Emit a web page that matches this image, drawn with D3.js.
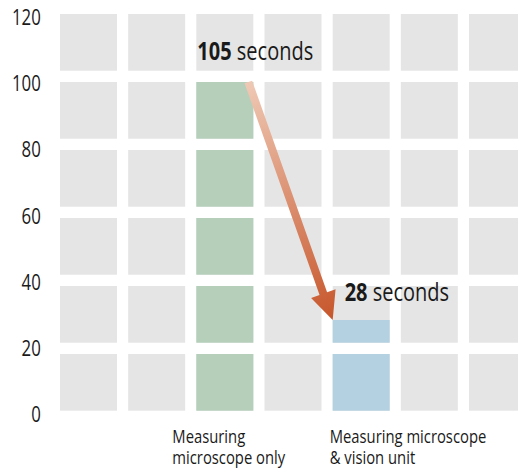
<!DOCTYPE html>
<html>
<head>
<meta charset="utf-8">
<script src="https://cdn.jsdelivr.net/npm/d3@7"></script>
<style>
  body { margin: 0; background: #fff; }
  svg text { font-family: "Open Sans", "Noto Sans", sans-serif; fill: #1a1a1a; }
</style>
</head>
<body>
<svg width="518" height="472"></svg>
<script>
// data
var categories = [["Measuring", "microscope only"], ["Measuring microscope", "& vision unit"]];
var seconds = [105, 28];          // the numbers in the labels
var filled = [100, 28];           // how far the tiles are coloured
var barColumn = [2, 4];           // which grid column each bar sits in
var barColors = ["#b5cfba", "#b4d1e1"];
var yTicks = [0, 20, 40, 60, 80, 100, 120];
var rowStarts = [100, 80, 60, 40, 20, 0];
var columns = [0, 1, 2, 3, 4, 5, 6];

var svg = d3.select("svg");
var squeeze = 0.8;   // the original font is a condensed one

var x = d3.scaleBand().domain(columns).range([60, 526]).paddingInner(0.164).paddingOuter(0);
var row = d3.scaleBand().domain(rowStarts).range([14, 410.7]).paddingInner(0.166).paddingOuter(0);
var y = d3.scaleLinear().domain([0, 120]).range([410.7, 14]);
var step = 20;

// gray background tiles
var tiles = [];
columns.forEach(function(c) {
  rowStarts.forEach(function(r) { tiles.push({c: c, r: r}); });
});
svg.append("g").selectAll("rect")
  .data(tiles)
  .enter().append("rect")
  .attr("x", function(d) { return x(d.c); })
  .attr("y", function(d) { return row(d.r); })
  .attr("width", x.bandwidth())
  .attr("height", row.bandwidth())
  .attr("fill", "#e5e5e5");

// coloured tiles for each bar
var cells = [];
filled.forEach(function(v, i) {
  rowStarts.forEach(function(r) {
    var f = Math.max(0, Math.min(1, (v - r) / step));
    if (f > 0) cells.push({i: i, r: r, f: f});
  });
});
svg.append("g").selectAll("rect")
  .data(cells)
  .enter().append("rect")
  .attr("x", function(d) { return x(barColumn[d.i]); })
  .attr("y", function(d) { return row(d.r) + row.bandwidth() * (1 - d.f); })
  .attr("width", x.bandwidth())
  .attr("height", function(d) { return row.bandwidth() * d.f; })
  .attr("fill", function(d) { return barColors[d.i]; });

// y axis
var yAxis = svg.append("g")
  .attr("transform", "translate(44,4) scale(" + squeeze + ",1)")
  .call(d3.axisLeft(y).tickValues(yTicks).tickSize(0).tickPadding(4));
yAxis.select(".domain").remove();
yAxis.selectAll("text").style("font-size", "21px").attr("fill", "#1a1a1a");

function topOf(i) {
  var v = filled[i];
  var r = Math.floor((v - 0.001) / step) * step;
  var f = (v - r) / step;
  return row(r) + row.bandwidth() * (1 - f);
}

// value labels
var labelPos = [{dx: 1, y: 60}, {dx: 12, y: 300.5}];
var vl = svg.append("g").selectAll("g")
  .data(seconds)
  .enter().append("g")
  .attr("transform", function(d, i) {
    return "translate(" + (x(barColumn[i]) + labelPos[i].dx) + "," + labelPos[i].y + ") scale(" + squeeze + ",1)";
  })
  .append("text")
  .style("font-size", "25px");
vl.append("tspan").style("font-weight", "bold").text(function(d) { return d; });
vl.append("tspan").text(function() { return " seconds"; });

// category labels
var catDx = [-24, -3];
var cl = svg.append("g").selectAll("g")
  .data(categories)
  .enter().append("g")
  .attr("transform", function(d, i) {
    return "translate(" + (x(barColumn[i]) + catDx[i]) + ",443) scale(" + squeeze + ",1)";
  })
  .append("text")
  .style("font-size", "18.5px");
cl.selectAll("tspan")
  .data(function(d) { return d; })
  .enter().append("tspan")
  .attr("x", 0)
  .attr("dy", function(d, j) { return j === 0 ? 0 : 21; })
  .text(function(d) { return d; });

// arrow from the top of the first bar to the top of the second
var sx = x(barColumn[0]) + x.bandwidth() - 5, sy = topOf(0);
var tx = x(barColumn[1]), ty = topOf(1);
var len = Math.hypot(tx - sx, ty - sy);
var ux = (tx - sx) / len, uy = (ty - sy) / len;
var nx = -uy, ny = ux;
var shaft = 4, headL = 28, headW = 13;
var bx = tx - ux * headL, by = ty - uy * headL;
var pts = [
  [sx + nx * shaft, sy + ny * shaft],
  [bx + nx * shaft, by + ny * shaft],
  [bx + nx * headW, by + ny * headW],
  [tx, ty],
  [bx - nx * headW, by - ny * headW],
  [bx - nx * shaft, by - ny * shaft],
  [sx - nx * shaft, sy - ny * shaft]
];
var grad = svg.append("defs").append("linearGradient")
  .attr("id", "arrowGrad")
  .attr("gradientUnits", "userSpaceOnUse")
  .attr("x1", sx).attr("y1", sy).attr("x2", tx).attr("y2", ty);
grad.append("stop").attr("offset", "0%").attr("stop-color", "#efc9b5");
grad.append("stop").attr("offset", "100%").attr("stop-color", "#c7562b");

svg.append("path")
  .attr("d", d3.line()(pts) + "Z")
  .attr("fill", "url(#arrowGrad)");
</script>
</body>
</html>
